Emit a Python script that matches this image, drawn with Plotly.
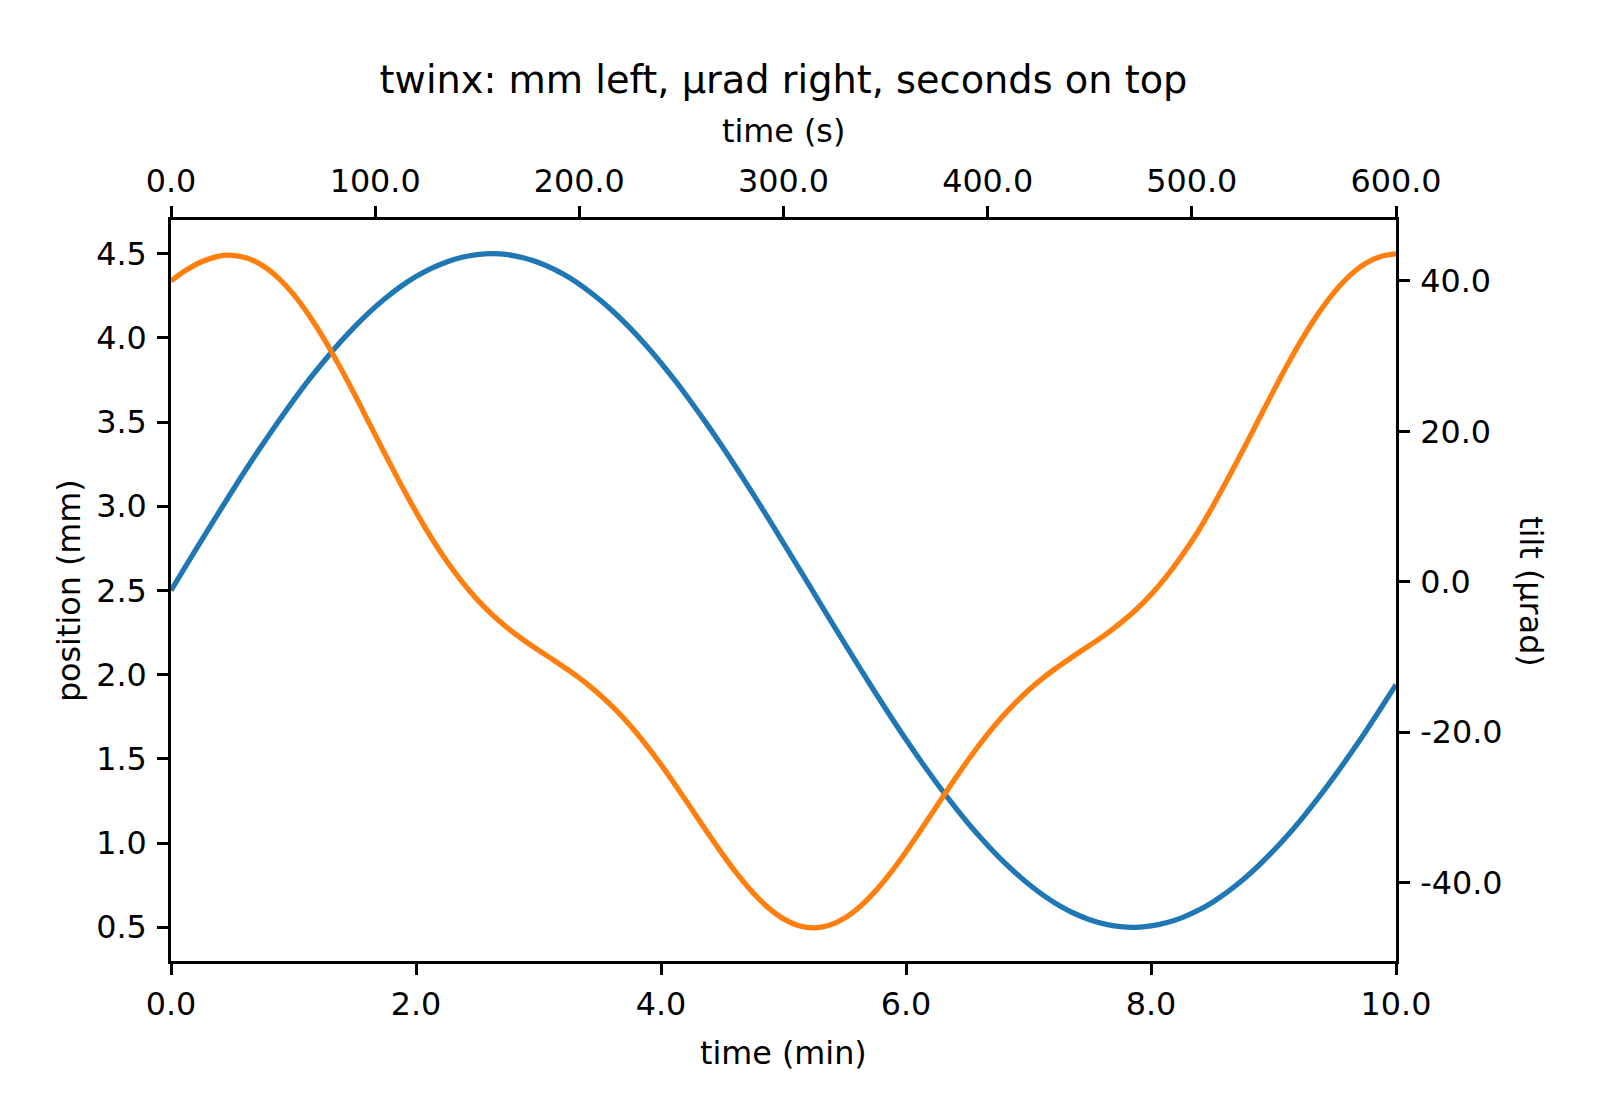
import plotly.graph_objects as go

time_min = [0.0, 0.125, 0.25, 0.375, 0.5, 0.625, 0.75, 0.875, 1.0, 1.125, 1.25, 1.375, 1.5, 1.625, 1.75, 1.875,
            2.0, 2.125, 2.25, 2.375, 2.5, 2.625, 2.75, 2.875, 3.0, 3.125, 3.25, 3.375, 3.5, 3.625, 3.75, 3.875,
            4.0, 4.125, 4.25, 4.375, 4.5, 4.625, 4.75, 4.875, 5.0, 5.125, 5.25, 5.375, 5.5, 5.625, 5.75, 5.875,
            6.0, 6.125, 6.25, 6.375, 6.5, 6.625, 6.75, 6.875, 7.0, 7.125, 7.25, 7.375, 7.5, 7.625, 7.75, 7.875,
            8.0, 8.125, 8.25, 8.375, 8.5, 8.625, 8.75, 8.875, 9.0, 9.125, 9.25, 9.375, 9.5, 9.625, 9.75, 9.875,
            10.0]

position_mm = [2.500, 2.650, 2.799, 2.946, 3.091, 3.233, 3.370, 3.502, 3.629, 3.750, 3.863, 3.969, 4.067, 4.156, 4.235, 4.305,
               4.364, 4.413, 4.451, 4.479, 4.495, 4.500, 4.494, 4.476, 4.448, 4.408, 4.358, 4.297, 4.226, 4.146, 4.056, 3.958,
               3.851, 3.737, 3.615, 3.488, 3.355, 3.217, 3.075, 2.930, 2.782, 2.633, 2.483, 2.333, 2.185, 2.037, 1.893, 1.752,
               1.615, 1.483, 1.357, 1.237, 1.124, 1.020, 0.923, 0.836, 0.757, 0.688, 0.630, 0.582, 0.545, 0.519, 0.504, 0.500,
               0.508, 0.527, 0.556, 0.597, 0.648, 0.710, 0.782, 0.864, 0.955, 1.054, 1.162, 1.277, 1.399, 1.527, 1.660, 1.799,
               1.941]

tilt_urad = [40.000, 41.441, 42.551, 43.235, 43.410, 43.016, 42.018, 40.408, 38.210, 35.473, 32.268, 28.690, 24.864, 20.875, 16.903, 13.004,
             9.298, 5.864, 2.760, 0.024, -2.366, -4.411, -6.165, -7.697, -9.088, -10.427, -11.807, -13.305, -14.998, -16.928, -19.127, -21.592,
             -24.300, -27.189, -30.202, -33.227, -36.163, -38.897, -41.312, -43.307, -44.796, -45.707, -45.998, -45.657, -44.695, -43.159, -41.113, -38.649,
             -35.870, -32.889, -29.822, -26.779, -23.841, -21.099, -18.598, -16.384, -14.414, -12.693, -11.197, -9.783, -8.432, -7.041, -5.487, -3.739,
             -1.696, 0.688, 3.433, 6.464, 9.923, 13.625, 17.483, 21.451, 25.388, 29.189, 32.727, 35.887, 38.584, 40.740, 42.309, 43.256,
             43.603]

x_ticks_min = [0, 2, 4, 6, 8, 10]
x_ticks_sec = [0, 100, 200, 300, 400, 500, 600]
y_ticks_mm = [0.5, 1.0, 1.5, 2.0, 2.5, 3.0, 3.5, 4.0, 4.5]
y_ticks_urad = [-40, -20, 0, 20, 40]

x_range_min = [0, 10]
x_range_sec = [0, 600]
y_range_mm = [0.3, 4.7]
y_range_urad = [-50.4, 48.1]

title_text = "twinx: mm left, µrad right, seconds on top"
label_bottom = "time (min)"
label_top = "time (s)"
label_left = "position (mm)"
label_right = "tilt (µrad)"

BLUE = "#1f77b4"
ORANGE = "#ff7f0e"
FONT = "DejaVu Sans"
TICK_PX = 31.8
TITLE_PX = 38.3
AX_W = 2.8
TICK_LEN = 11
LINE_W = 5.3

def fmt(vals):
    return [f"{v:.1f}" for v in vals]

fig = go.Figure()
fig.add_trace(go.Scatter(x=time_min, y=position_mm, mode="lines",
                         line=dict(color=BLUE, width=LINE_W, shape="spline", smoothing=1.0),
                         xaxis="x", yaxis="y", showlegend=False))
fig.add_trace(go.Scatter(x=[x_range_sec[0], x_range_sec[1]], y=[None, None], mode="lines",
                         xaxis="x2", yaxis="y", showlegend=False, hoverinfo="skip"))
fig.add_trace(go.Scatter(x=time_min, y=tilt_urad, mode="lines",
                         line=dict(color=ORANGE, width=LINE_W, shape="spline", smoothing=1.0),
                         xaxis="x", yaxis="y2", showlegend=False))

axis_common = dict(showgrid=False, zeroline=False, showline=True, linecolor="black",
                   linewidth=AX_W, ticks="outside", ticklen=TICK_LEN, tickwidth=AX_W,
                   tickcolor="black", tickfont=dict(family=FONT, size=TICK_PX, color="black"),
                   tickmode="array")

fig.update_layout(
    width=1600, height=1120,
    margin=dict(l=171, r=204, t=220, b=159),
    paper_bgcolor="white", plot_bgcolor="white",
    title=dict(text=title_text, x=0.5, xref="paper", xanchor="center",
               y=1 - 79.6 / 1120, yref="container", yanchor="middle",
               font=dict(family=FONT, size=TITLE_PX, color="black")),
    xaxis=dict(range=x_range_min, tickvals=x_ticks_min, ticktext=fmt(x_ticks_min),
               side="bottom", mirror=False, ticklabelstandoff=2, **axis_common),
    xaxis2=dict(range=x_range_sec, tickvals=x_ticks_sec, ticktext=fmt(x_ticks_sec),
                overlaying="x", side="top", anchor="y", ticklabelstandoff=1, **axis_common),
    yaxis=dict(range=y_range_mm, tickvals=y_ticks_mm, ticktext=fmt(y_ticks_mm),
               side="left", ticklabelstandoff=4, **axis_common),
    yaxis2=dict(range=y_range_urad, tickvals=y_ticks_urad, ticktext=fmt(y_ticks_urad),
                overlaying="y", side="right", anchor="x", ticklabelstandoff=4, **axis_common),
    annotations=[
        dict(text=label_bottom, xref="paper", yref="paper", x=0.5, y=-0.124,
             xanchor="center", yanchor="middle", showarrow=False,
             font=dict(family=FONT, size=TICK_PX, color="black")),
        dict(text=label_top, xref="paper", yref="paper", x=0.5, y=1.121,
             xanchor="center", yanchor="middle", showarrow=False,
             font=dict(family=FONT, size=TICK_PX, color="black")),
        dict(text=label_left, xref="paper", yref="paper", x=-0.0836, y=0.5,
             xanchor="center", yanchor="middle", showarrow=False, textangle=-90,
             font=dict(family=FONT, size=TICK_PX, color="black")),
        dict(text=label_right, xref="paper", yref="paper", x=1.110, y=0.498,
             xanchor="center", yanchor="middle", showarrow=False, textangle=90,
             font=dict(family=FONT, size=TICK_PX, color="black")),
    ],
)

fig.write_html("out.html")
